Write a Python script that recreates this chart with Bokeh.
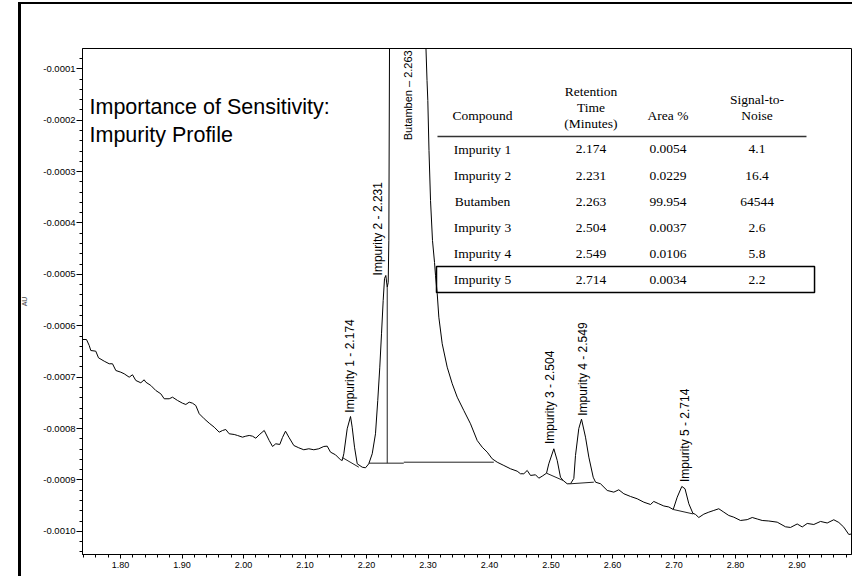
import math
from bokeh.plotting import figure
from bokeh.models import Range1d, SingleIntervalTicker, PrintfTickFormatter
from bokeh.core.properties import value
from bokeh.embed import file_html
from bokeh.resources import INLINE

# ---- chromatogram trace: retention time (min) and absorbance (micro-AU) ----
time_min = [
    1.7382, 1.7447, 1.7491, 1.7517, 1.7598, 1.7642, 1.7735, 1.7816, 1.7870, 1.7924,
    1.8005, 1.8060, 1.8141, 1.8195, 1.8249, 1.8330, 1.8385, 1.8411, 1.8493, 1.8574,
    1.8655, 1.8711, 1.8792, 1.8846, 1.8927, 1.9008, 1.9062, 1.9117, 1.9171, 1.9224,
    1.9280, 1.9361, 1.9442, 1.9524, 1.9605, 1.9659, 1.9712, 1.9767, 1.9849, 1.9902,
    1.9984, 2.0037, 2.0093, 2.0146, 2.0200, 2.0255, 2.0337, 2.0418, 2.0472, 2.0525,
    2.0590, 2.0634, 2.0683, 2.0737, 2.0818, 2.0899, 2.0980, 2.1062, 2.1143, 2.1224,
    2.1306, 2.1361, 2.1415, 2.1496, 2.1577, 2.1605, 2.1631, 2.1686, 2.1740, 2.1767,
    2.1805, 2.1849, 2.1930, 2.1984, 2.2037, 2.2093, 2.2146, 2.2183, 2.2216, 2.2244,
    2.2271, 2.2293, 2.2314, 2.2337, 2.2353, 2.2363, 2.2374, 2.2630, 2.2967, 2.2984,
    2.2997, 2.3016, 2.3041, 2.3073, 2.3106, 2.3122, 2.3150, 2.3176, 2.3231, 2.3312,
    2.3394, 2.3475, 2.3582, 2.3691, 2.3800, 2.3881, 2.3963, 2.4044, 2.4125, 2.4233,
    2.4341, 2.4450, 2.4504, 2.4558, 2.4613, 2.4667, 2.4748, 2.4802, 2.4857, 2.4927,
    2.4964, 2.5046, 2.5101, 2.5154, 2.5198, 2.5263, 2.5317, 2.5371, 2.5398, 2.5452,
    2.5496, 2.5561, 2.5615, 2.5686, 2.5724, 2.5805, 2.5914, 2.6021, 2.6102, 2.6184,
    2.6293, 2.6402, 2.6509, 2.6618, 2.6671, 2.6753, 2.6834, 2.6915, 2.6987, 2.7052,
    2.7127, 2.7179, 2.7241, 2.7306, 2.7350, 2.7403, 2.7485, 2.7566, 2.7647, 2.7728,
    2.7810, 2.7891, 2.7972, 2.8081, 2.8190, 2.8272, 2.8353, 2.8434, 2.8541, 2.8678,
    2.8813, 2.8894, 2.9003, 2.9085, 2.9166, 2.9273, 2.9382, 2.9491, 2.9598, 2.9680,
    2.9761, 2.9842, 2.9886,
]
signal_uau = [
    -626.7, -626.7, -638.3, -648.1, -649.4, -662.3, -668.9, -673.9, -673.9, -687.0,
    -690.3, -693.4, -700.0, -695.3, -706.4, -710.9, -705.1, -709.7, -716.1, -725.9,
    -732.3, -742.0, -742.0, -738.9, -745.3, -750.6, -753.1, -748.6, -750.6, -755.1,
    -771.2, -780.9, -789.5, -797.3, -807.0, -803.7, -801.8, -810.1, -811.5, -813.4,
    -816.7, -814.8, -813.4, -814.8, -818.7, -812.1, -803.7, -823.2, -834.8, -829.6,
    -830.9, -817.3, -805.1, -816.7, -832.9, -837.4, -841.2, -839.3, -841.2, -839.3,
    -834.8, -834.2, -845.9, -851.0, -860.7, -862.1, -849.0, -800.4, -776.5, -797.3,
    -836.2, -868.5, -875.1, -876.3, -868.5, -849.0, -810.1, -745.3, -680.5, -615.6,
    -550.8, -508.0, -502.1, -524.9, -515.8, -434.0, -60.5, 12500.0, -60.5, -122.8,
    -161.7, -259.0, -356.2, -434.0, -476.8, -502.1, -537.7, -583.3, -635.0, -680.5,
    -712.8, -738.9, -764.8, -790.7, -823.2, -836.2, -845.9, -858.8, -865.4, -871.8,
    -878.2, -882.9, -887.9, -887.9, -881.5, -891.2, -889.9, -896.5, -892.6, -886.8,
    -868.5, -839.3, -862.1, -894.6, -901.0, -907.4, -907.4, -897.1, -852.3, -799.8,
    -781.7, -816.7, -855.6, -894.6, -904.3, -907.4, -920.4, -923.7, -919.1, -926.8,
    -932.1, -936.6, -943.2, -947.7, -941.8, -946.3, -950.6, -952.5, -957.4, -933.5,
    -912.6, -917.1, -946.3, -964.6, -967.1, -973.0, -966.5, -962.6, -959.3, -956.0,
    -962.6, -969.1, -972.4, -978.8, -977.2, -973.0, -975.9, -978.8, -979.8, -982.1,
    -991.1, -992.4, -985.6, -991.4, -984.6, -986.6, -980.7, -983.7, -977.4, -982.7,
    -991.8, -1006.0, -1005.1,
]
signal_au = [v * 1e-6 for v in signal_uau]

# ---- integration baselines / drop line (start time, start uAU, end time, end uAU) ----
base_t0 = [2.1605, 2.2037, 2.2606, 2.2337, 2.4927, 2.5317, 2.6987]
base_a0 = [-856.2, -867.3, -865.4, -867.3, -886.8, -907.4, -957.4]
base_t1 = [2.1875, 2.2606, 2.4070, 2.2337, 2.5198, 2.5696, 2.7312]
base_a1 = [-875.1, -867.3, -865.4, -524.9, -901.0, -904.3, -966.1]

# ---- peak labels ----
peak_labels = ["Impurity 1 - 2.174", "Impurity 2 - 2.231", "Butamben \u2013 2.263",
               "Impurity 3 - 2.504", "Impurity 4 - 2.549", "Impurity 5 - 2.714"]
peak_label_t = [2.1724, 2.2179, 2.2675, 2.4976, 2.5528, 2.7171]
peak_label_uau = [-769.0, -502.0, -239.0, -830.0, -775.0, -904.0]
peak_label_size = ["12px", "12px", "11px", "12px", "12px", "12px"]

# ---- results table ----
table_header = [["Compound"], ["Retention", "Time", "(Minutes)"], ["Area %"], ["Signal-to-", "Noise"]]
compounds = ["Impurity 1", "Impurity 2", "Butamben", "Impurity 3", "Impurity 4", "Impurity 5"]
ret_times = ["2.174", "2.231", "2.263", "2.504", "2.549", "2.714"]
area_pct = ["0.0054", "0.0229", "99.954", "0.0037", "0.0106", "0.0034"]
signal_noise = ["4.1", "16.4", "64544", "2.6", "5.8", "2.2"]

title_lines = ["Importance of Sensitivity:", "Impurity Profile"]

# ---------------- figure ----------------
p = figure(width=834, height=574,
           x_range=Range1d(1.7382, 2.9886), y_range=Range1d(-0.001045, -0.0000605),
           output_backend="svg", toolbar_location=None,
           min_border_left=64, min_border_top=46, min_border_right=1, min_border_bottom=22,
           border_fill_color=None, background_fill_color="white",
           margin=(2, 0, 0, 18),
           styles={"box-shadow": "inset 3px 2px 0 0 #000"})
p.xgrid.visible = False
p.ygrid.visible = False
p.outline_line_color = "black"
p.outline_line_width = 1

FONT = value("Liberation Sans")
SERIF = value("Liberation Serif")

for ax in (p.xaxis[0], p.yaxis[0]):
    ax.axis_line_color = "black"
    ax.major_tick_line_color = "black"
    ax.minor_tick_line_color = "black"
    ax.major_tick_in = 0
    ax.minor_tick_in = 0
    ax.major_label_text_font = "Liberation Sans"
    ax.major_label_text_color = "black"

p.xaxis.ticker = SingleIntervalTicker(interval=0.1, num_minor_ticks=5)
p.xaxis.formatter = PrintfTickFormatter(format="%.2f")
p.xaxis.major_tick_out = 4
p.xaxis.minor_tick_out = 3
p.xaxis.major_label_standoff = 3
p.xaxis.major_label_text_font_size = "9px"

p.yaxis.ticker = SingleIntervalTicker(interval=0.0001, num_minor_ticks=5)
p.yaxis.formatter = PrintfTickFormatter(format="%.4f")
p.yaxis.major_tick_out = 6
p.yaxis.minor_tick_out = 3
p.yaxis.major_label_standoff = 1
p.yaxis.major_label_text_font_size = "9.5px"
p.yaxis.axis_label = "AU"
p.yaxis.axis_label_text_font = "Liberation Sans"
p.yaxis.axis_label_text_font_size = "7px"
p.yaxis.axis_label_text_font_style = "normal"
p.yaxis.axis_label_standoff = 12

# trace
p.line(time_min, signal_au, line_color="black", line_width=1)

# integration baselines
p.segment(x0=base_t0, y0=[v * 1e-6 for v in base_a0], x1=base_t1, y1=[v * 1e-6 for v in base_a1],
          line_color="#222222", line_width=1)

# peak labels (rotated)
p.text(x=peak_label_t, y=[v * 1e-6 for v in peak_label_uau], text=peak_labels,
       angle=math.pi / 2, text_align="left", text_baseline="middle",
       text_font=FONT, text_font_size=peak_label_size, text_color="black")

# title text
p.text(x=[1.7496, 1.7496], y=[-0.0001743, -0.0002294], text=title_lines,
       text_align="left", text_baseline="middle", text_font=FONT,
       text_font_size="21.5px", text_color="black")

# table
col_x = [2.3886, 2.5650, 2.6902, 2.8350]
header_y = {1: [-0.0001899], 3: [-0.0001442, -0.0001753, -0.0002064], 2: [-0.0001597, -0.0001909]}
hx, hy, ht = [], [], []
for ci, lines in enumerate(table_header):
    ys = header_y[len(lines)]
    for line, yy in zip(lines, ys):
        hx.append(col_x[ci]); hy.append(yy); ht.append(line)
p.text(x=hx, y=hy, text=ht, text_align="center", text_baseline="middle",
       text_font=SERIF, text_font_size="13.5px", text_color="black")

row_y0, row_step = -0.000257, -0.0000506
tx, ty, tt = [], [], []
for ri in range(len(compounds)):
    yy = row_y0 + ri * row_step
    for ci, col in enumerate((compounds, ret_times, area_pct, signal_noise)):
        tx.append(col_x[ci]); ty.append(yy); tt.append(col[ri])
p.text(x=tx, y=ty, text=tt, text_align="center", text_baseline="middle",
       text_font=SERIF, text_font_size="13.5px", text_color="black")

# header rule and highlight box
p.segment(x0=[2.3154], y0=[-0.0002317], x1=[2.9154], y1=[-0.0002317],
          line_color="#333333", line_width=1.5)
p.quad(left=[2.3138], right=[2.9285], top=[-0.0004846], bottom=[-0.0005352],
       fill_color=None, line_color="black", line_width=1.5)

open("out.html", "w").write(file_html(p, INLINE))
